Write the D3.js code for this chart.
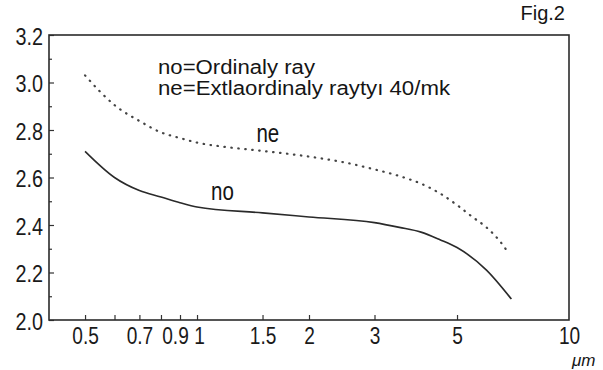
<!DOCTYPE html>
<html>
<head>
<meta charset="utf-8">
<script src="https://cdn.jsdelivr.net/npm/d3@7"></script>
<style>
  body { margin: 0; background: #fff; }
  svg { display: block; }
  .tick text { font-family: "Liberation Sans Narrow", "Arial Narrow", "Liberation Sans", sans-serif; fill: #1a1a1a; }
  .tick line { stroke: #333; stroke-width: 1.2; }
</style>
</head>
<body>
<div id="chart"></div>
<script>
// wavelength (um) and refractive index
const noWave = [0.5, 0.6, 0.7, 0.8, 0.9, 1.0, 1.5, 2, 3, 3.5, 4, 4.5, 5, 6, 7];
const noIndex = [2.71, 2.60, 2.545, 2.518, 2.494, 2.476, 2.451, 2.434, 2.41, 2.39, 2.37, 2.338, 2.305, 2.21, 2.088];

const neWave = [0.5, 0.55, 0.6, 0.7, 0.8, 0.9, 1.0, 1.2, 1.5, 2, 2.5, 3, 3.5, 4, 4.5, 5, 5.5, 6, 6.5, 6.85];
const neIndex = [3.03, 2.96, 2.905, 2.838, 2.79, 2.766, 2.747, 2.728, 2.712, 2.688, 2.663, 2.634, 2.606, 2.574, 2.533, 2.484, 2.434, 2.39, 2.334, 2.286];

const xTickValues = [0.5, 0.6, 0.7, 0.8, 0.9, 1, 1.5, 2, 3, 5, 10];
const xTickLabels = ['0.5', '', '0.7', '', '0.9', '1', '1.5', '2', '3', '5', '10'];
const yTickValues = [2.0, 2.2, 2.4, 2.6, 2.8, 3.0, 3.2];
const yMinorValues = [2.1, 2.3, 2.5, 2.7, 2.9, 3.1];

const legendLines = ['no=Ordinaly ray', 'ne=Extlaordinaly rayty\u0131 40/mk'];

const W = 603, H = 370;
const margin = { top: 35, right: 34, bottom: 50, left: 49 };

const svg = d3.select('#chart').append('svg')
  .attr('width', W)
  .attr('height', H);

// squeeze a regular face to look like the condensed type of the scan
function condense(sel, k) {
  sel.each(function () {
    const len = this.getComputedTextLength();
    if (len > 0) {
      d3.select(this)
        .attr('textLength', len * k)
        .attr('lengthAdjust', 'spacingAndGlyphs');
    }
  });
}

const x = d3.scaleLog()
  .domain([0.4, 10])
  .range([margin.left, W - margin.right]);

const y = d3.scaleLinear()
  .domain([2.0, 3.2])
  .range([H - margin.bottom, margin.top]);

// axes, ticks pointing inward
const xAxis = d3.axisBottom(x)
  .tickValues(xTickValues)
  .tickSizeInner(-5)
  .tickSizeOuter(0)
  .tickPadding(8)
  .tickFormat((d, i) => xTickLabels[i]);

svg.append('g')
  .attr('class', 'x-axis')
  .attr('transform', `translate(0,${H - margin.bottom})`)
  .call(xAxis)
  .call(g => g.select('.domain').remove())
  .call(g => g.selectAll('.tick text').attr('font-size', 23))
  .call(g => g.selectAll('.tick').filter(d => d === 10).select('line').remove())
  .call(g => g.selectAll('.tick').filter(d => d === 0.9).select('text').attr('dx', -5))
  .call(g => g.selectAll('.tick').filter(d => d === 1).select('text').attr('dx', 2))
  .call(g => condense(g.selectAll('.tick text'), 0.83));

const yAxis = d3.axisLeft(y)
  .tickValues(yTickValues)
  .tickSizeInner(-5)
  .tickSizeOuter(0)
  .tickPadding(6)
  .tickFormat(d3.format('.1f'));

svg.append('g')
  .attr('class', 'y-axis')
  .attr('transform', `translate(${margin.left},0)`)
  .call(yAxis)
  .call(g => g.select('.domain').remove())
  .call(g => g.selectAll('.tick text').attr('font-size', 23).attr('dy', '0.4em'))
  .call(g => condense(g.selectAll('.tick text'), 0.86));

svg.append('g')
  .attr('class', 'y-minor')
  .attr('transform', `translate(${margin.left},0)`)
  .call(d3.axisLeft(y).tickValues(yMinorValues).tickSizeInner(-3).tickSizeOuter(0).tickFormat(''))
  .call(g => g.select('.domain').remove());

// frame
svg.append('rect')
  .attr('x', margin.left)
  .attr('y', margin.top)
  .attr('width', W - margin.left - margin.right)
  .attr('height', H - margin.top - margin.bottom)
  .attr('fill', 'none')
  .attr('stroke', '#2b2b2b')
  .attr('stroke-width', 1.6);

// curves
const line = d3.line()
  .curve(d3.curveMonotoneX)
  .x(d => x(d[0]))
  .y(d => y(d[1]));

svg.append('path')
  .datum(neWave.map((w, i) => [w, neIndex[i]]))
  .attr('class', 'ne-line')
  .attr('fill', 'none')
  .attr('stroke', '#444')
  .attr('stroke-width', 2.2)
  .attr('stroke-linecap', 'round')
  .attr('stroke-dasharray', '0.5 6.5')
  .attr('d', line);

svg.append('path')
  .datum(noWave.map((w, i) => [w, noIndex[i]]))
  .attr('class', 'no-line')
  .attr('fill', 'none')
  .attr('stroke', '#2a2a2a')
  .attr('stroke-width', 1.6)
  .attr('d', line);

const txt = (sel) => sel
  .attr('font-family', '"Liberation Sans Narrow", "Arial Narrow", "Liberation Sans", sans-serif')
  .attr('fill', '#151515');

// curve labels
svg.append('text').call(txt)
  .attr('x', x(1.55)).attr('y', y(2.748))
  .attr('text-anchor', 'middle')
  .attr('font-size', 25)
  .text('ne')
  .call(s => condense(s, 0.82));

svg.append('text').call(txt)
  .attr('x', x(1.17)).attr('y', y(2.505))
  .attr('text-anchor', 'middle')
  .attr('font-size', 25)
  .text('no')
  .call(s => condense(s, 0.82));

// legend
const legendWidths = [157, 292];
legendLines.forEach((t, i) => {
  svg.append('text').call(txt)
    .attr('x', 158)
    .attr('y', 74 + i * 21)
    .attr('font-size', 20)
    .attr('textLength', legendWidths[i])
    .attr('lengthAdjust', 'spacingAndGlyphs')
    .text(t);
});

// figure number and unit
svg.append('text')
  .attr('x', 565).attr('y', 20)
  .attr('text-anchor', 'end')
  .attr('font-family', '"Liberation Sans", Arial, sans-serif')
  .attr('font-size', 20)
  .attr('fill', '#151515')
  .text('Fig.2');

svg.append('text').call(txt)
  .attr('x', 572).attr('y', 366)
  .attr('font-size', 17)
  .attr('font-style', 'italic')
  .text('\u03bcm');
</script>
</body>
</html>
